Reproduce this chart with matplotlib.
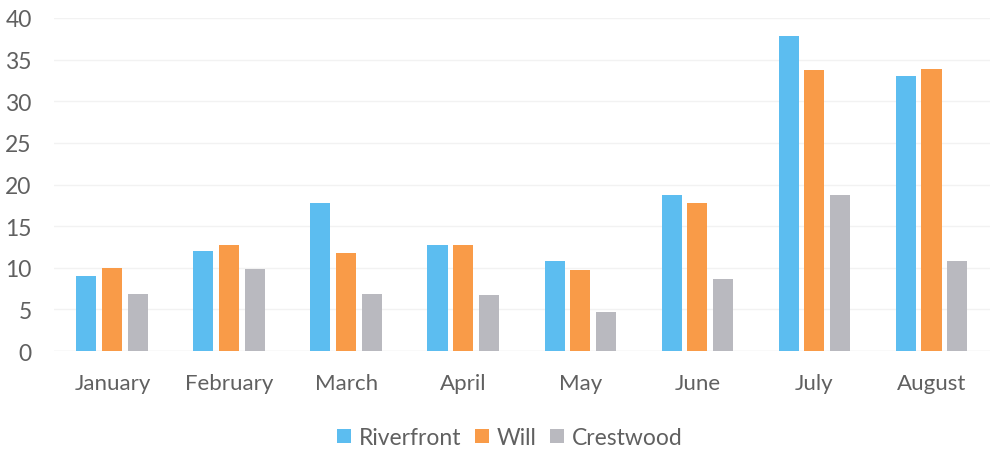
import matplotlib.pyplot as plt
import numpy as np
from matplotlib.patches import Patch

months = ["January", "February", "March", "April", "May", "June", "July", "August"]
riverfront = [9.0, 12.0, 17.8, 12.7, 10.8, 18.7, 37.8, 33.0]
will = [10.0, 12.8, 11.8, 12.7, 9.7, 17.8, 33.8, 33.9]
crestwood = [6.8, 9.8, 6.8, 6.7, 4.7, 8.6, 18.8, 10.8]

series_names = ["Riverfront", "Will", "Crestwood"]
colors = ["#5CBDF0", "#F99B48", "#B9B9BF"]
text_color = "#606060"

plt.rcParams["font.family"] = ["Lato", "DejaVu Sans"]

fig = plt.figure(figsize=(9.9, 4.52), dpi=100)
ax = fig.add_axes([0.0545, 0.221, 0.9455, 0.737])

x = np.arange(len(months))
width = 0.171
step = 0.222
for i, (values, name, color) in enumerate(zip([riverfront, will, crestwood], series_names, colors)):
    ax.bar(x + (i - 1) * step, values, width=width, color=color, label=name, zorder=2)

ax.set_xlim(-0.5, len(months) - 0.5)
ax.set_ylim(0, 40)
ax.set_yticks(range(0, 41, 5))
ax.set_xticks(x)
ax.set_xticklabels(months)

ax.grid(axis="y", color="#F2F2F2", linewidth=1, zorder=0)
ax.axhline(0, color="#EBEBEB", linewidth=1, zorder=1)
for spine in ax.spines.values():
    spine.set_visible(False)
ax.tick_params(axis="both", length=0, colors=text_color)
ax.tick_params(axis="x", labelsize=16, pad=16)
ax.tick_params(axis="y", labelsize=16.5, pad=16)

handles = [Patch(facecolor=c, label=n) for c, n in zip(colors, series_names)]
fig.legend(handles=handles, loc="center", bbox_to_anchor=(0.515, 0.03),
           ncol=3, frameon=False, fontsize=16.5, labelcolor=text_color,
           handlelength=0.6, handleheight=0.6, handletextpad=0.35, columnspacing=0.6)

fig.savefig("out.png", dpi=100, facecolor="white")
